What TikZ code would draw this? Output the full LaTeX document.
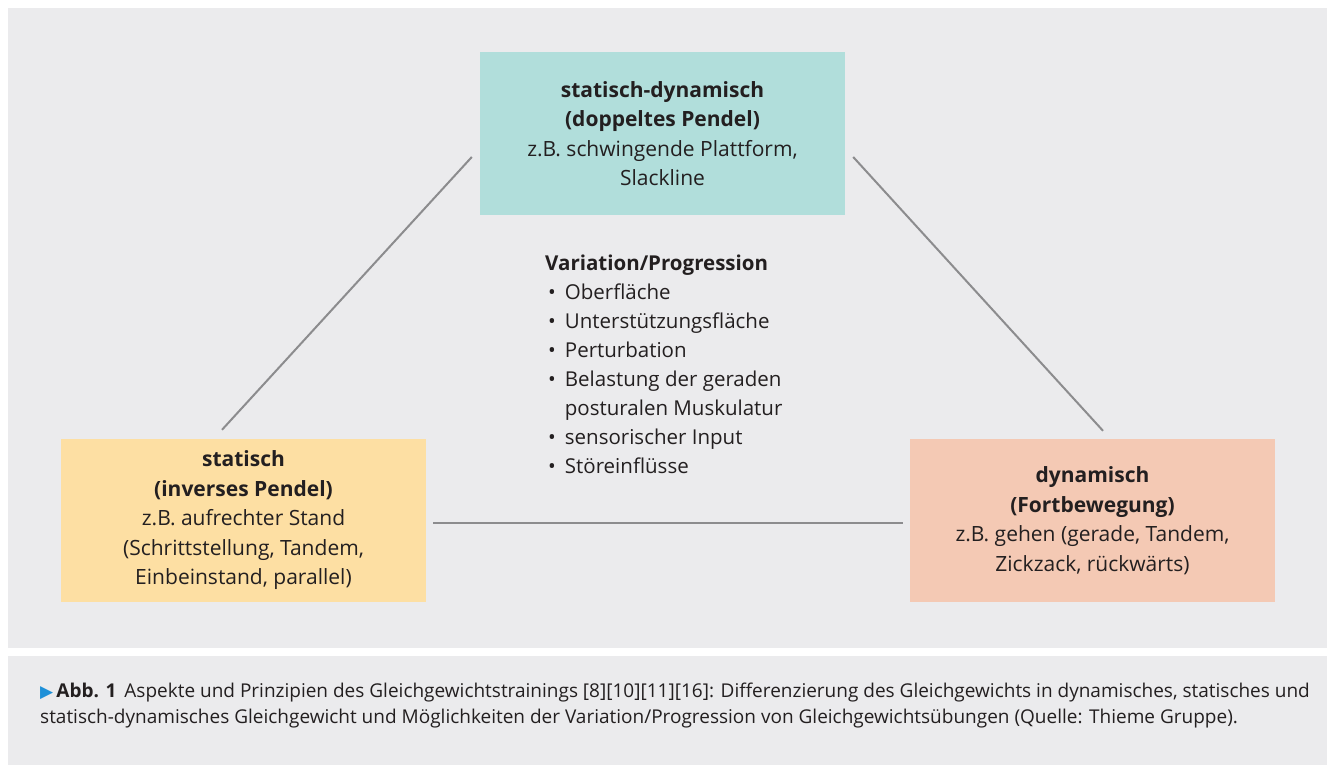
\documentclass[tikz,border=0pt]{standalone}
\usepackage{fontspec}
\setmainfont{Open Sans}
\newfontfamily\capfont{Open Sans}
\newfontfamily\symfont{DejaVu Sans}
\usetikzlibrary{calc}
\definecolor{panel}{HTML}{EBEBED}
\definecolor{tealbox}{HTML}{B1DEDB}
\definecolor{sandbox}{HTML}{FDDFA3}
\definecolor{peachbox}{HTML}{F4C9B4}
\definecolor{linegray}{HTML}{8C8C8E}
\definecolor{ink}{HTML}{231F20}
\definecolor{capblue}{HTML}{1E90D8}
\tikzset{
  box/.style={minimum width=365pt, minimum height=163pt, inner sep=0pt, align=center,
    text=ink, font=\fontsize{21}{29.5}\selectfont},
  link/.style={draw=linegray, line width=2pt},
  lab/.style={text=ink, font=\fontsize{20.5}{29}\selectfont},
}

\begin{document}
\begin{tikzpicture}[x=1pt,y=-1pt]
\useasboundingbox (0,0) rectangle (1327,765);
\fill[panel] (8,8) rectangle (1327,648);
\fill[panel] (8,656) rectangle (1327,765);

\node[box, fill=tealbox] (sd) at (662.5,133.5)
  {\textbf{statisch-dynamisch}\\\textbf{(doppeltes Pendel)}\\z.B. schwingende Plattform,\\Slackline};
\node[box, fill=sandbox] (stat) at (243.5,520.5)
  {\textbf{statisch}\\\textbf{(inverses Pendel)}\\z.B. aufrechter Stand\\(Schrittstellung, Tandem,\\Einbeinstand, parallel)};
\node[box, fill=peachbox] (dyn) at (1092.5,520.5)
  {\textbf{dynamisch}\\\textbf{(Fortbewegung)}\\z.B. gehen (gerade, Tandem,\\Zickzack, rückwärts)};

\coordinate (sdl) at ($(sd.west)+(-8,23.5)$);
\coordinate (sdr) at ($(sd.east)+(8,23.5)$);
\coordinate (statn) at ($(stat.north)+(-21.5,-9)$);
\coordinate (state) at ($(stat.east)+(7,2.5)$);
\coordinate (dynn) at ($(dyn.north)+(10.5,-8)$);
\coordinate (dynw) at ($(dyn.west)+(-7,2.5)$);
\draw[link] (sdl) -- (statn);
\draw[link] (sdr) -- (dynn);
\draw[link] (state) -- (dynw);

\node[lab, anchor=north west, inner sep=0pt] (var) at (545,250) {%
  \renewcommand{\arraystretch}{1}%
  \begin{tabular}{@{\hspace{3pt}}l@{\hspace{9pt}}l@{}}
  \multicolumn{2}{@{}l}{\textbf{Variation/Progression}}\\
  • & Oberfläche\\
  • & Unterstützungsfläche\\
  • & Perturbation\\
  • & Belastung der geraden\\
    & posturalen Muskulatur\\
  • & sensorischer Input\\
  • & Störeinflüsse
  \end{tabular}};

\node[anchor=base west, inner sep=0pt, align=left, text=ink,
  font=\capfont\fontsize{19}{26}\selectfont] (cap) at (40,723)
  {{\symfont\fontsize{17}{17}\selectfont\color{capblue}▶}\,\textbf{Abb. 1}\hspace{8pt}Aspekte und Prinzipien des Gleichgewichtstrainings [8][10][11][16]: Differenzierung des Gleichgewichts in dynamisches, statisches und\\
  statisch-dynamisches Gleichgewicht und Möglichkeiten der Variation/Progression von Gleichgewichtsübungen (Quelle: Thieme Gruppe).};
\end{tikzpicture}
\end{document}
